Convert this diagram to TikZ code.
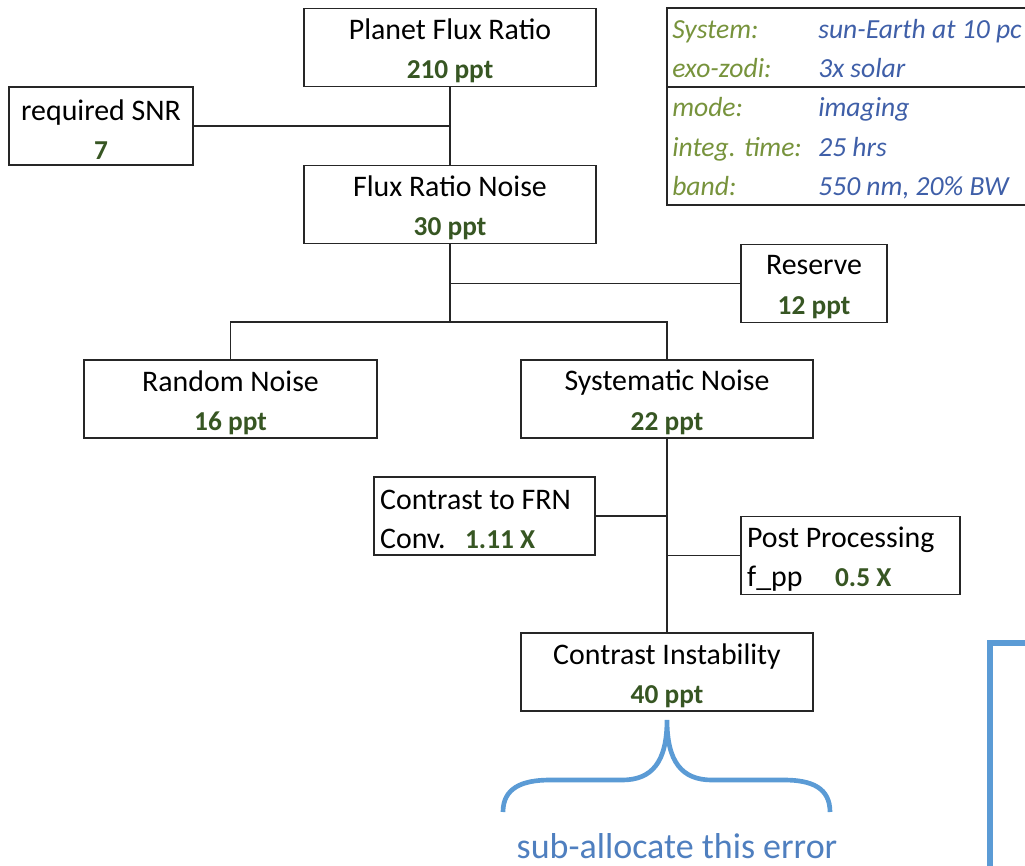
\documentclass[tikz,border=0pt]{standalone}
\usepackage{fontspec}
\setmainfont{Carlito}
\usepackage{tikz}
\usepackage{xcolor}
\definecolor{numgreen}{HTML}{375623}
\definecolor{labgreen}{HTML}{77933C}
\definecolor{valblue}{HTML}{3F5FA8}
\definecolor{braceblue}{HTML}{5B9BD5}
\definecolor{noteblue}{HTML}{4F7FBF}
\newcommand{\num}[1]{\textcolor{numgreen}{\fontsize{20.5}{29.5}\selectfont\bfseries #1}}

\begin{document}
\begin{tikzpicture}[x=0.75pt,y=0.75pt,yscale=-1,xscale=1,
  budget/.style={draw=black!85, line width=1.2pt, inner sep=0pt,
    minimum width=219pt, minimum height=58.5pt},
  lbl/.style={align=center, inner sep=0pt, yshift=-2.6pt, font=\fontsize{22.4}{29.5}\selectfont},
  leftlbl/.style={lbl, align=left, anchor=west, xshift=5pt},
  link/.style={draw=black!85, line width=1.2pt},
  setup/.style={anchor=base west, inner sep=0pt, font=\fontsize{20.7}{25}\selectfont\itshape}]
\clip (0,0) rectangle (1025,865);

% Boxes
\node [budget, label={[lbl]center:{Planet Flux Ratio\\ \num{210 ppt}}}] (pfr) at (450,47.5) {};
\node [budget, minimum width=138pt, label={[lbl]center:{required SNR\\ \num{7}}}] (snr) at (101,126) {};
\node [budget, label={[lbl]center:{Flux Ratio Noise\\ \num{30 ppt}}}] (frn) at (450,204.5) {};
\node [budget, minimum width=109.5pt, label={[lbl]center:{Reserve\\ \num{12 ppt}}}] (res) at (814,283.5) {};
\node [budget, minimum width=219.75pt, label={[lbl]center:{Random Noise\\ \num{16 ppt}}}] (rnd) at (230.5,399) {};
\node [budget, label={[lbl]center:{Systematic Noise\\ \num{22 ppt}}}] (sys) at (667,399) {};
\node [budget, minimum width=165.75pt,
  label={[leftlbl]west:{Contrast to FRN\\ \makebox[63.75pt][l]{Conv.}\num{1.11 X}}}] (ctf) at (484.5,516) {};
\node [budget, minimum width=164.25pt,
  label={[leftlbl]west:{Post Processing\\ \makebox[66pt][l]{f\_pp}\num{0.5 X}}}] (pp) at (850.5,555.5) {};
\node [budget, label={[lbl]center:{Contrast Instability\\ \num{40 ppt}}}] (ci) at (667,672) {};

% Connectors
\coordinate (split) at (450,322);
\draw [link] (pfr) -- (frn);
\draw [link] (snr.east) -- (snr.east -| pfr.south);
\draw [link] (frn) -- (split);
\draw [link] (res.west) -- (res.west -| frn.south);
\draw [link] (rnd.north) |- (split) -| (sys.north);
\draw [link] (sys) -- (ci);
\draw [link] (ctf.east) -- (ctf.east -| sys.south);
\draw [link] (pp.west) -- (pp.west -| sys.south);

% Setup table
\draw [draw=black!85, line width=1.3pt] (667,8) rectangle (1060,205);
\draw [draw=black!85, line width=1.3pt] (667,87) -- (1060,87);
\node [setup, text=labgreen] (lsys) at (672,38) {System:};
\node [setup, text=labgreen] (lzod) at (672,77) {exo-zodi:};
\node [setup, text=labgreen] (lmode) at (672,116) {mode:};
\node [setup, text=labgreen] (ltime) at (672,156) {integ. time:};
\node [setup, text=labgreen] (lband) at (672,195) {band:};
\node [setup, text=valblue] (vsys) at (818,38) {sun-Earth at 10 pc};
\node [setup, text=valblue] (vzod) at (818,77) {3x solar};
\node [setup, text=valblue] (vmode) at (818,116) {imaging};
\node [setup, text=valblue] (vtime) at (818,156) {25 hrs};
\node [setup, text=valblue] (vband) at (818,195) {550 nm, 20\% BW};

% Brace and note
\draw [braceblue, line width=3.5pt] (503,812) .. controls (503,788) and (522,780) .. (550,780)
  -- (622,780) .. controls (652,780) and (667,762) .. (667,720)
  .. controls (667,762) and (682,780) .. (712,780) -- (784,780)
  .. controls (812,780) and (830,788) .. (830,812);
\node [text=noteblue, font=\fontsize{27}{30}\selectfont, anchor=base, inner sep=0pt] (note) at (677,858) {sub-allocate this error};
\draw [braceblue, line width=4pt] (990,643) rectangle (1100,950);

\end{tikzpicture}
\end{document}
